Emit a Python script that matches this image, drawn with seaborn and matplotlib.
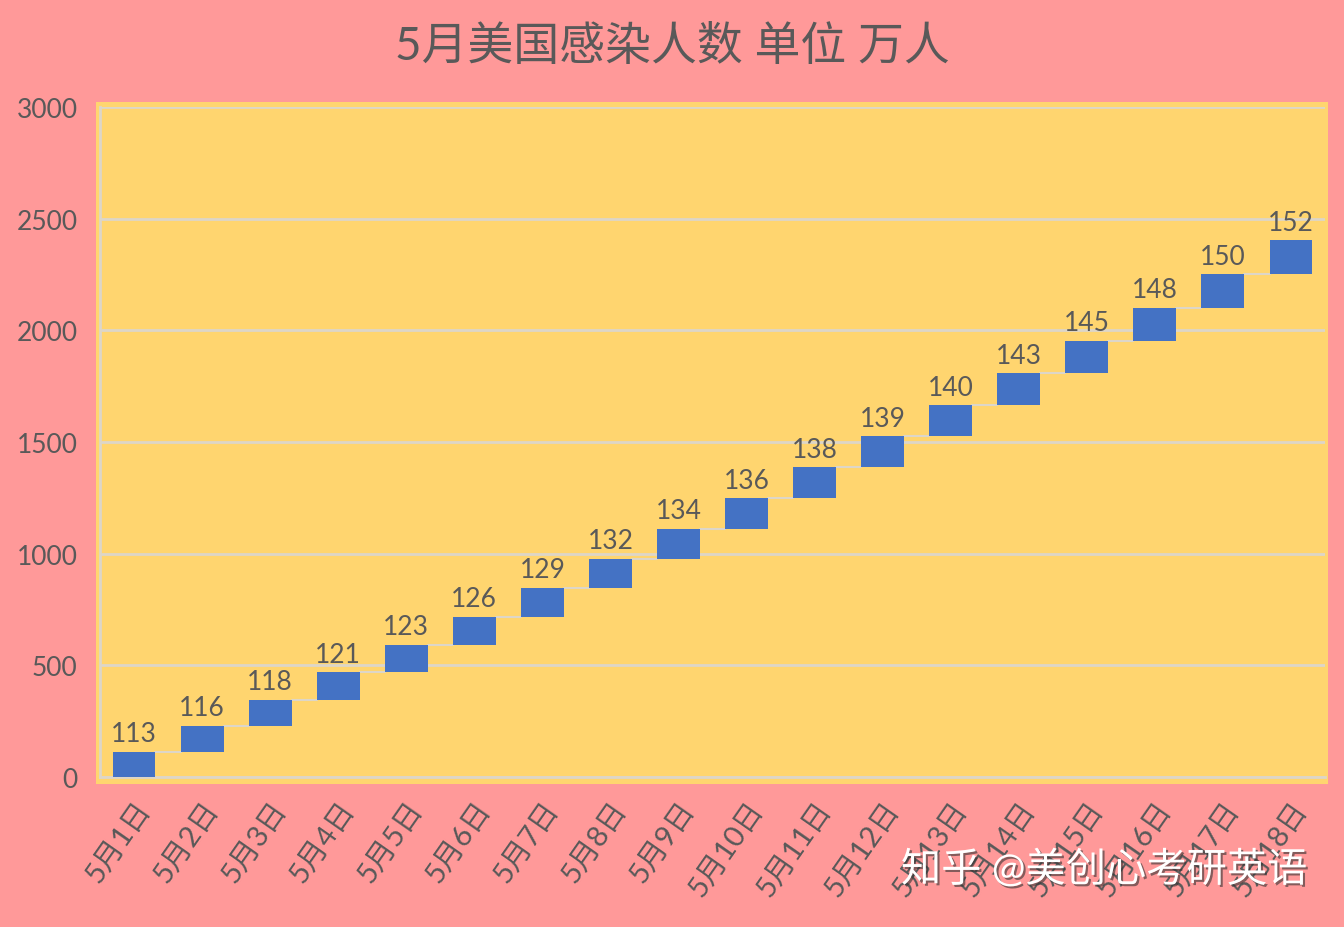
import matplotlib
matplotlib.use("Agg")
import matplotlib.pyplot as plt
import matplotlib.patheffects as pe
import seaborn as sns
import pandas as pd

categories = [f"5月{i}日" for i in range(1, 19)]
values = [113, 116, 118, 121, 123, 126, 129, 132, 134, 136, 138, 139, 140, 143, 145, 148, 150, 152]
title = "5月美国感染人数 单位 万人"
watermark = "知乎 @美创心考研英语"
yticks = [0, 500, 1000, 1500, 2000, 2500, 3000]

bottoms = []
acc = 0
for v in values:
    bottoms.append(acc)
    acc += v

PINK = "#FF9999"
YELLOW = "#FFD56F"
BLUE = "#4472C4"
GRID = "#DDD6C8"
TEXT = "#595959"

sns.set_theme(style="white")
plt.rcParams['font.family'] = ['Lato', 'Noto Sans CJK SC', 'DejaVu Sans']

fig = plt.figure(figsize=(13.44, 9.28), dpi=100, facecolor=PINK)
W, H = 1344, 928
ax = fig.add_axes([100 / W, 1 - 778 / H, (1325 - 100) / W, (778 - 108) / H])
ax.set_facecolor("none")
ax.set_zorder(2)
# yellow plot-area panel (behind axes)
bg = fig.add_axes([96 / W, 1 - 785 / H, (1328 - 96) / W, (785 - 103) / H])
bg.set_zorder(1)
bg.set_facecolor(YELLOW)
bg.set_xticks([])
bg.set_yticks([])
for s in bg.spines.values():
    s.set_visible(False)

df = pd.DataFrame({"day": categories, "value": values})
sns.barplot(data=df, x="day", y="value", color=BLUE, saturation=1, width=0.63, ax=ax, zorder=3)
for p, b in zip(ax.patches, bottoms):
    p.set_y(b)
    p.set_edgecolor("none")

# connectors
patches = list(ax.patches)
for i in range(len(patches) - 1):
    p, q = patches[i], patches[i + 1]
    top = bottoms[i] + values[i]
    ax.plot([p.get_x() + p.get_width(), q.get_x()], [top, top], color=GRID, lw=1.5, zorder=2)

# labels
for p, b, v in zip(patches, bottoms, values):
    ax.text(p.get_x() + p.get_width() / 2, b + v + 25, str(v), ha="center", va="bottom",
            fontsize=19, color=TEXT, zorder=4)

ax.set_ylim(0, 3000)
ax.set_xlim(-0.5, len(values) - 0.5)
ax.set_yticks(yticks)
ax.yaxis.grid(True, color=GRID, lw=2, zorder=0)
ax.set_axisbelow(True)
for s in ["top", "right"]:
    ax.spines[s].set_visible(False)
for s in ["left", "bottom"]:
    ax.spines[s].set_color(GRID)
    ax.spines[s].set_linewidth(2)
ax.set_xlabel("")
ax.set_ylabel("")
ax.tick_params(axis="y", length=0, pad=16, labelsize=19, labelcolor=TEXT)
ax.tick_params(axis="x", length=0, pad=14, labelsize=21, labelcolor=TEXT)
for lab in ax.get_xticklabels():
    lab.set_rotation(55)
    lab.set_ha("right")
    lab.set_rotation_mode("anchor")

fig.text(0.5, 1 - 46 / H, title, ha="center", va="center", fontsize=33, color=TEXT)
fig.text(1104 / W, 1 - 870 / H, watermark, ha="center", va="center", fontsize=29, color="white",
         path_effects=[pe.withSimplePatchShadow(offset=(1.5, -1.5), shadow_rgbFace="#333333", alpha=0.6)],
         zorder=10)

fig.savefig("out.png", dpi=100, facecolor=PINK)
